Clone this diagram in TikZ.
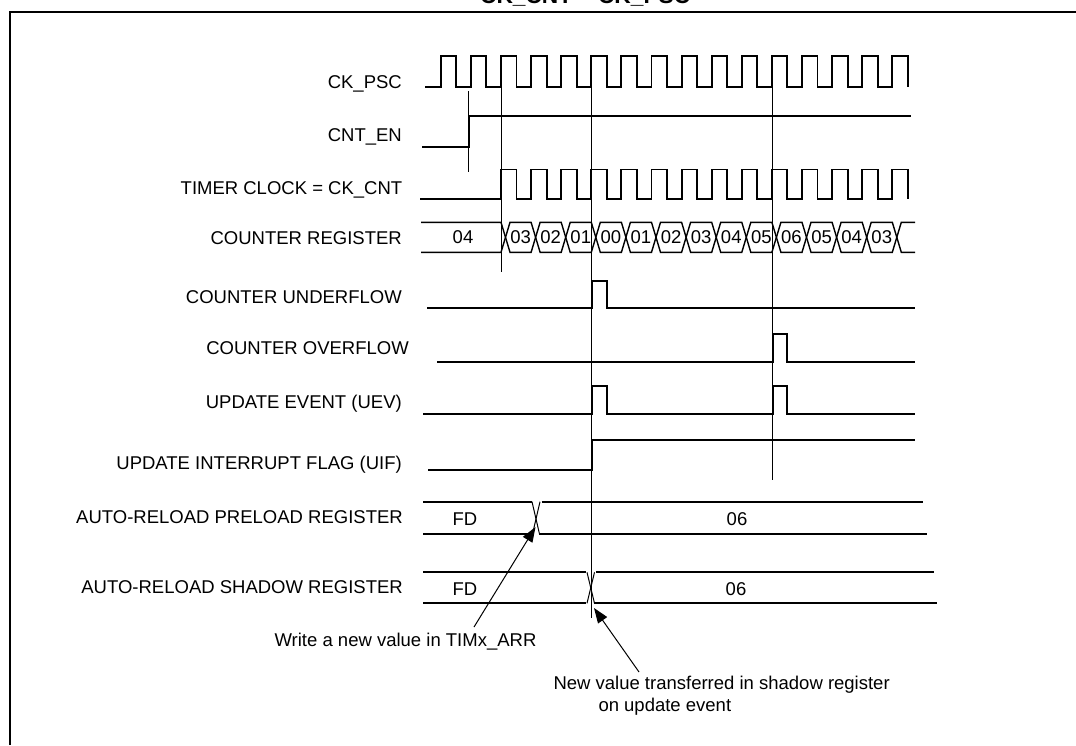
\documentclass[tikz,border=0pt]{standalone}
\usepackage{fontspec}
\setmainfont{Liberation Sans}
\usetikzlibrary{arrows.meta}
\begin{document}
\begin{tikzpicture}[x=1pt,y=-1pt,
  sig/.style={line width=1.9pt, line join=miter},
  guide/.style={line width=0.9pt},
  cell/.style={line width=1.4pt},
  xline/.style={line width=1pt},
  lbl/.style={anchor=base east, inner sep=0pt, font=\fontsize{18.5}{22}\selectfont},
  val/.style={anchor=base, inner sep=0pt, font=\fontsize{18.5}{22}\selectfont},
  note/.style={anchor=base west, inner sep=0pt, font=\fontsize{18.5}{22}\selectfont},
  pointer/.style={line width=1pt, -{Triangle[length=15pt,width=11pt]}},
  frame/.style={line width=2pt}]
\useasboundingbox (0,0) rectangle (1076,745);
\fill[white] (0,0) rectangle (1076,745);

% cut-off title
\begin{scope}
\clip (0,0) rectangle (1076,7);
\node[anchor=base west, inner sep=0pt, font=\bfseries\fontsize{22.7}{26}\selectfont] (title) at (480,3) {CK\_CNT = CK\_PSC};
\end{scope}

% frame
\draw[frame] (10,745) -- (10,11.5) -- (1076,11.5);

% labels
\node[lbl] (lpsc) at (402,88.3) {CK\_PSC};
\node[lbl] (len) at (402,141.6) {CNT\_EN};
\node[note] (lclk) at (180.5,194.3) {TIMER CLOCK = CK\_CNT};
\node[lbl] (lreg) at (402,244.8) {COUNTER REGISTER};
\node[lbl] (lunf) at (402,303.6) {COUNTER UNDERFLOW};
\node[lbl] (lovf) at (409,354.8) {COUNTER OVERFLOW};
\node[lbl] (luev) at (402,408.5) {UPDATE EVENT (UEV)};
\node[lbl] (luif) at (402,469.8) {UPDATE INTERRUPT FLAG (UIF)};
\node[lbl] (lpre) at (403,523.8) {AUTO-RELOAD PRELOAD REGISTER};
\node[lbl] (lsha) at (403,593.8) {AUTO-RELOAD SHADOW REGISTER};

% guide lines
\draw[guide] (468,91) -- (468,172);
\draw[guide] (501,88) -- (501,272);
\draw[guide] (591.5,57) -- (591.5,618);
\draw[guide] (772,87) -- (772,480);

% CK_PSC
\draw[sig] (425,86.7) \foreach \k in {0,...,15} { -- ({440.8+30.1*\k},86.7) -- ({440.8+30.1*\k},56.3) -- ({456.3+30.1*\k},56.3) -- ({456.3+30.1*\k},86.7) };

% CNT_EN
\draw[sig] (422,146.7) -- (469,146.7) -- (469,116) -- (911,116);

% TIMER CLOCK
\draw[sig] (420,199.3) \foreach \k in {2,...,15} { -- ({440.8+30.1*\k},199.3) -- ({440.8+30.1*\k},169.5) -- ({456.3+30.1*\k},169.5) -- ({456.3+30.1*\k},199.3) };

% COUNTER REGISTER
\draw[cell] (421,222.3) -- (501,222.3) -- (505.5,237.3) -- (501,252.3) -- (421,252.3);
\node[val] (v04) at (463,243.9) {04};
\foreach \v [count=\i from 0] in {03,02,01,00,01,02,03,04,05,06,05,04,03} {
  \pgfmathsetmacro\a{505.5+30.1*\i}
  \pgfmathsetmacro\b{505.5+30.1*(\i+1)}
  \draw[cell] (\a,237.3) -- (\a+4.5,222.3) -- (\b-4.5,222.3) -- (\b,237.3) -- (\b-4.5,252.3) -- (\a+4.5,252.3) -- cycle;
  \node[val] (cv\i) at ({(\a+\b)/2},243.9) {\v};
}
\draw[cell] (915,222.3) -- (901.3,222.3) -- (896.8,237.3) -- (901.3,252.3) -- (915,252.3);

% COUNTER UNDERFLOW
\draw[sig] (427,308.3) -- (592.3,308.3) -- (592.3,280.7) -- (607.3,280.7) -- (607.3,308.3) -- (915,308.3);
% COUNTER OVERFLOW
\draw[sig] (437,362) -- (772.7,362) -- (772.7,334) -- (787.3,334) -- (787.3,362) -- (915,362);
% UEV
\draw[sig] (423,414) -- (592.3,414) -- (592.3,386) -- (607,386) -- (607,414) -- (772.7,414) -- (772.7,386) -- (787.3,386) -- (787.3,414) -- (915,414);
% UIF
\draw[sig] (428,470) -- (592.3,470) -- (592.3,440) -- (915,440);

% AUTO-RELOAD PRELOAD
\draw[sig] (423,501.7) -- (532,501.7);
\draw[sig] (423,534) -- (533,534);
\draw[xline] (532,501.7) -- (539.5,534);
\draw[xline] (540,501.7) -- (532.5,534);
\draw[sig] (541.5,501.7) -- (922.7,501.7);
\draw[sig] (539.3,534) -- (926.7,534);
\node[val] (pfd) at (465,525.6) {FD};
\node[val] (p06) at (737,525.6) {06};

% AUTO-RELOAD SHADOW
\draw[sig] (423,572.3) -- (586,572.3);
\draw[sig] (423,603.3) -- (585.5,603.3);
\draw[xline] (587,572.3) -- (594.5,603.3);
\draw[xline] (594.5,572.3) -- (587,603.3);
\draw[sig] (596,572.3) -- (934,572.3);
\draw[sig] (593.5,603.3) -- (936.7,603.3);
\node[val] (sfd) at (465,595.6) {FD};
\node[val] (s06) at (736,595.6) {06};

% annotations
\node[val] (nwrite) at (405.5,646) {Write a new value in TIMx\_ARR};
\node[note] (nnew1) at (553.3,689.5) {New value transferred in shadow register};
\node[note] (nnew2) at (598.3,711) {on update event};
\coordinate (w0) at (474,627);
\coordinate (w1) at (535.5,527);
\coordinate (n0) at (639,672);
\coordinate (n1) at (594,608);
\draw[pointer] (w0) -- (w1);
\draw[pointer] (n0) -- (n1);
\end{tikzpicture}
\end{document}
